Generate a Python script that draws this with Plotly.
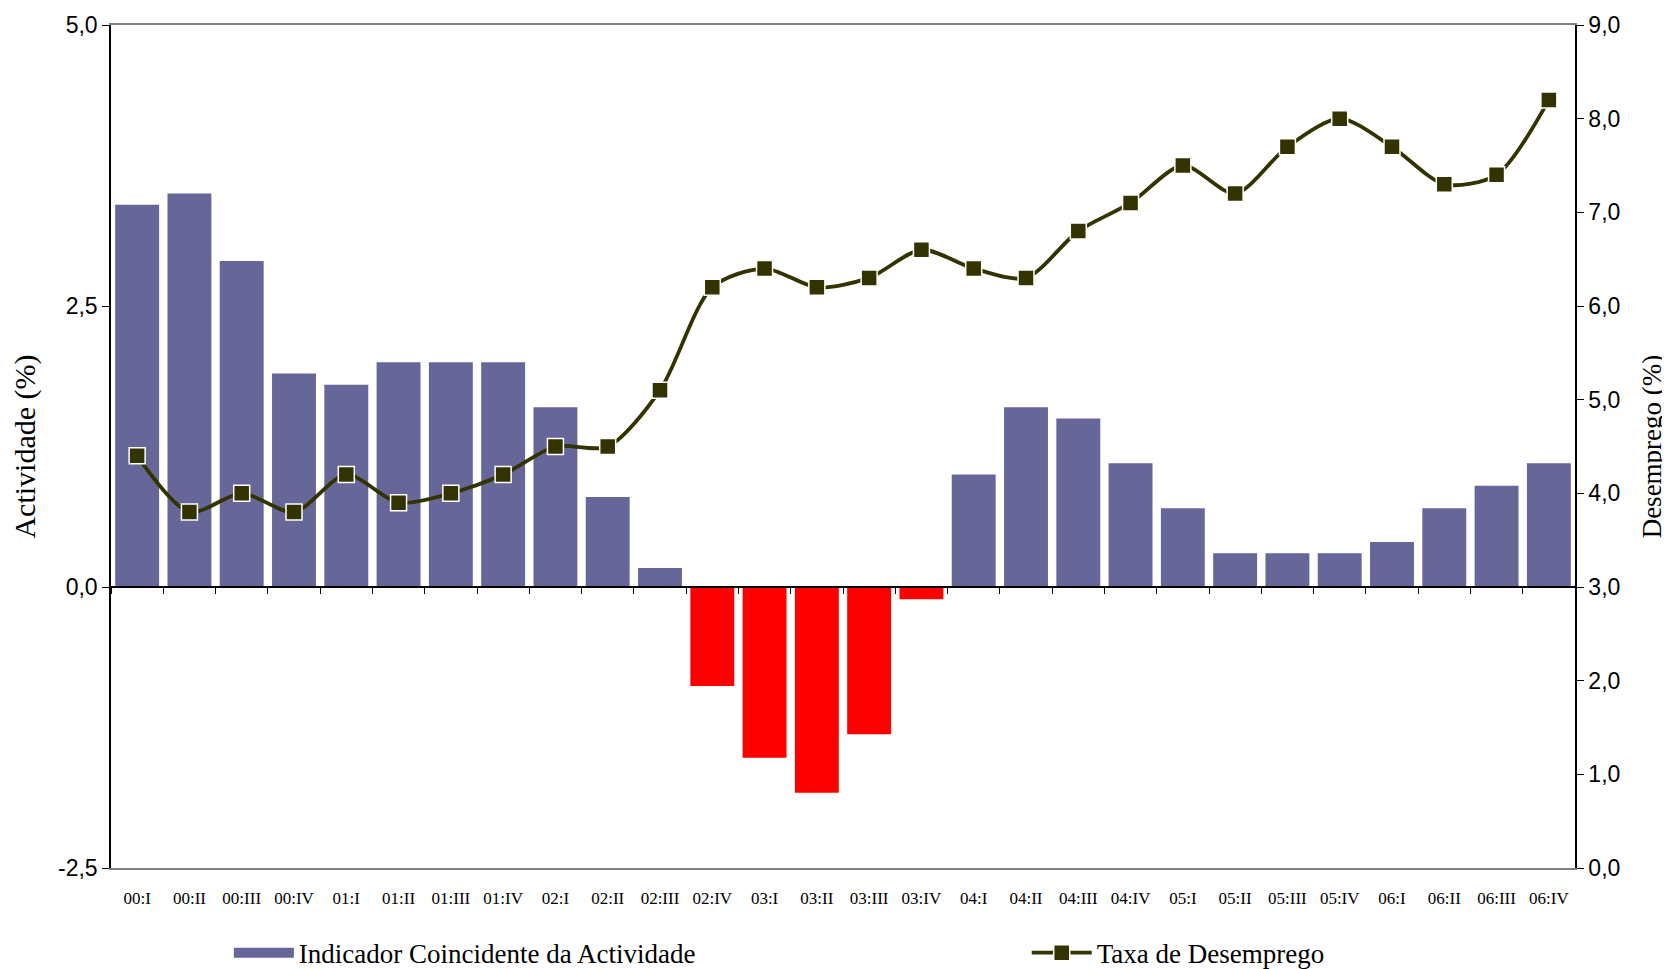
import plotly.graph_objects as go

categories = ["00:I", "00:II", "00:III", "00:IV", "01:I", "01:II", "01:III", "01:IV",
              "02:I", "02:II", "02:III", "02:IV", "03:I", "03:II", "03:III", "03:IV",
              "04:I", "04:II", "04:III", "04:IV", "05:I", "05:II", "05:III", "05:IV",
              "06:I", "06:II", "06:III", "06:IV"]

actividade = [3.4, 3.5, 2.9, 1.9, 1.8, 2.0, 2.0, 2.0,
              1.6, 0.8, 0.17, -0.88, -1.52, -1.83, -1.31, -0.11,
              1.0, 1.6, 1.5, 1.1, 0.7, 0.3, 0.3, 0.3,
              0.4, 0.7, 0.9, 1.1]

desemprego = [4.4, 3.8, 4.0, 3.8, 4.2, 3.9, 4.0, 4.2,
              4.5, 4.5, 5.1, 6.2, 6.4, 6.2, 6.3, 6.6,
              6.4, 6.3, 6.8, 7.1, 7.5, 7.2, 7.7, 8.0,
              7.7, 7.3, 7.4, 8.2]

left_tickvals = [-2.5, 0.0, 2.5, 5.0]
left_ticktext = ["-2,5", "0,0", "2,5", "5,0"]

bar_name = "Indicador Coincidente da Actividade"
line_name = "Taxa de Desemprego"

POS_COLOR = "#666699"
NEG_COLOR = "#FF0000"
LINE_COLOR = "#333300"
SERIF = "Liberation Serif"
SANS = "Liberation Sans"

bar_colors = [NEG_COLOR if v < 0 else POS_COLOR for v in actividade]

fig = go.Figure()

fig.add_trace(go.Bar(
    x=categories, y=actividade, name=bar_name,
    marker=dict(color=bar_colors, line=dict(width=0)),
    showlegend=False,
))

# legend proxy giving the wide rectangular swatch of the bar series
fig.add_trace(go.Scatter(
    x=categories, y=[None] * len(categories), name=bar_name,
    mode="lines", line=dict(color=POS_COLOR, width=18),
    hoverinfo="skip", legend="legend",
))

# dummy trace to carry categories onto the zero-positioned axis
fig.add_trace(go.Scatter(
    x=categories, y=[None] * len(categories), xaxis="x2", yaxis="y",
    showlegend=False, hoverinfo="skip", mode="lines",
))

fig.add_trace(go.Scatter(
    x=categories, y=desemprego, name=line_name, yaxis="y2",
    mode="lines+markers",
    line=dict(color=LINE_COLOR, width=3.8, shape="spline", smoothing=0.8),
    marker=dict(symbol="square", size=16, color=LINE_COLOR,
                line=dict(color="white", width=1.5)),
    legend="legend2",
))

fig.update_layout(
    width=1670, height=969,
    margin=dict(l=103, r=103, t=17, b=109, autoexpand=False),
    paper_bgcolor="white", plot_bgcolor="white",
    separators=",.",
    bargap=0.16,
    xaxis=dict(
        type="category", range=[-0.5, len(categories) - 0.5],
        showgrid=False, zeroline=False,
        showline=True, linecolor="#808080", linewidth=1.5, mirror=True,
        ticks="outside", ticklen=0, ticklabelstandoff=14,
        tickfont=dict(family=SERIF, size=17, color="black"),
    ),
    xaxis2=dict(
        type="category", range=[-0.5, len(categories) - 0.5],
        overlaying="x", anchor="free", position=1 / 3,
        showgrid=False, zeroline=False,
        showline=True, linecolor="black", linewidth=1.5,
        ticks="outside", ticklen=6, tickcolor="black", tickwidth=1.2,
        tickson="boundaries", showticklabels=False,
    ),
    yaxis=dict(
        range=[-2.5, 5.0], tickvals=left_tickvals, ticktext=left_ticktext,
        showgrid=False, zeroline=False,
        showline=True, linecolor="black", linewidth=1.5,
        ticks="outside", ticklen=7, tickcolor="black",
        tickfont=dict(family=SANS, size=23, color="black"),
        title=dict(text="Actividade (%)", font=dict(family=SERIF, size=30, color="black"),
                   standoff=14),
        automargin=False,
    ),
    yaxis2=dict(
        range=[0, 9], dtick=1, tick0=0, tickformat=".1f",
        overlaying="y", side="right",
        showgrid=False, zeroline=False,
        showline=True, linecolor="black", linewidth=1.5,
        ticks="outside", ticklen=7, tickcolor="black",
        tickfont=dict(family=SANS, size=23, color="black"),
        title=dict(text="Desemprego (%)", font=dict(family=SERIF, size=27, color="black"),
                   standoff=23),
        automargin=False,
    ),
    legend=dict(
        x=0.0805, y=-0.101, xanchor="left", yanchor="middle",
        font=dict(family=SERIF, size=27, color="black"),
        bgcolor="rgba(0,0,0,0)", itemwidth=60,
    ),
    legend2=dict(
        x=0.6255, y=-0.101, xanchor="left", yanchor="middle",
        font=dict(family=SERIF, size=27, color="black"),
        bgcolor="rgba(0,0,0,0)", itemwidth=60,
    ),
    showlegend=True,
)

fig.write_html("out.html")
